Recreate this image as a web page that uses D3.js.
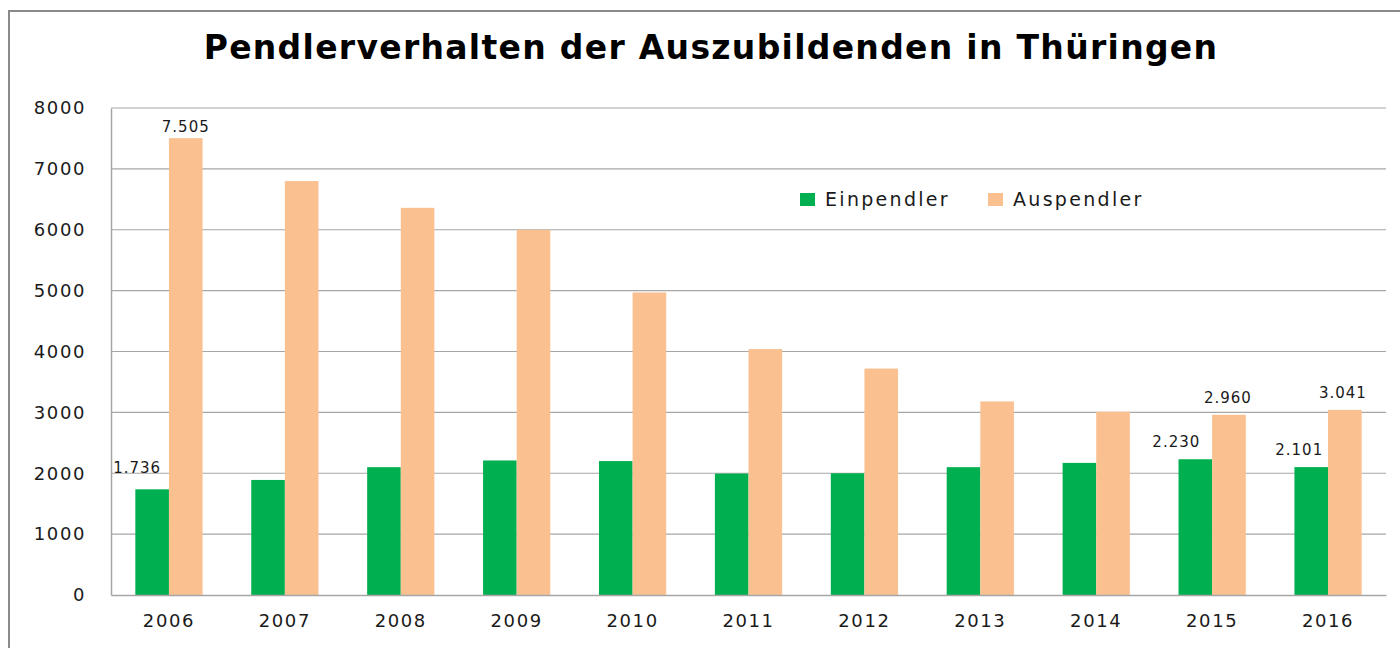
<!DOCTYPE html>
<meta charset="utf-8">
<script src="https://d3js.org/d3.v7.min.js"></script>
<style>
  body { margin: 0; background: #fff; }
  text { font-family: "DejaVu Sans", Verdana, sans-serif; fill: #1a1a1a; }
</style>
<div id="chart"></div>
<script>
    // data
    var years = ["2006","2007","2008","2009","2010","2011","2012","2013","2014","2015","2016"];
    var einpendler = [1736, 1890, 2100, 2210, 2200, 1995, 2000, 2100, 2170, 2230, 2101];
    var auspendler = [7505, 6800, 6360, 6000, 4970, 4040, 3720, 3180, 3010, 2960, 3041];
    var seriesNames = ["Einpendler", "Auspendler"];
    var yTicks = [0, 1000, 2000, 3000, 4000, 5000, 6000, 7000, 8000];
    // value labels that are shown in the chart
    var labelled = [
      {year: "2006", series: "Einpendler", text: "1.736"},
      {year: "2006", series: "Auspendler", text: "7.505"},
      {year: "2015", series: "Einpendler", text: "2.230"},
      {year: "2015", series: "Auspendler", text: "2.960"},
      {year: "2016", series: "Einpendler", text: "2.101"},
      {year: "2016", series: "Auspendler", text: "3.041"}
    ];

    var colors = {Einpendler: "#00b050", Auspendler: "#fac090"};

    var W = 1400, H = 648;
    var margin = {top: 108, right: 14, bottom: 53, left: 111},
        width = W - margin.left - margin.right,
        height = H - margin.top - margin.bottom;

    var root = d3.select("#chart").append("svg")
        .attr("width", W)
        .attr("height", H);

    // outer chart frame
    root.append("rect")
        .attr("x", 9).attr("y", 11)
        .attr("width", W + 20).attr("height", H + 20)
        .attr("fill", "none")
        .attr("stroke", "#8a8a8a")
        .attr("stroke-width", 2);

    root.append("text")
        .attr("x", 711).attr("y", 59)
        .attr("text-anchor", "middle")
        .style("font-size", "33px")
        .style("font-weight", "bold")
        .style("letter-spacing", "1.3px")
        .style("fill", "#000")
        .text("Pendlerverhalten der Auszubildenden in Thüringen");

    var svg = root.append("g")
        .attr("transform", "translate(" + margin.left + "," + margin.top + ")");

    var rows = years.map(function(y, i) {
      return {year: y, Einpendler: einpendler[i], Auspendler: auspendler[i]};
    });

    var x = d3.scaleBand()
        .domain(years)
        .range([0, width])
        .paddingInner(0.42)
        .paddingOuter(0.21);

    var x1 = d3.scaleBand()
        .domain(seriesNames)
        .range([0, x.bandwidth()]);

    var y = d3.scaleLinear()
        .domain([0, 8000])
        .range([height, 0]);

    // gridlines
    svg.append("g")
        .selectAll("line")
        .data(yTicks.filter(function(t) { return t > 0; }))
        .enter().append("line")
          .attr("x1", 0).attr("x2", width)
          .attr("y1", function(d) { return y(d); })
          .attr("y2", function(d) { return y(d); })
          .attr("stroke", "#a6a6a6")
          .attr("stroke-width", 1.2);

    // bars
    svg.append("g")
      .selectAll("g")
      .data(rows)
      .enter().append("g")
        .attr("transform", function(d) { return "translate(" + x(d.year) + ",0)"; })
      .selectAll("rect")
      .data(function(d) { return seriesNames.map(function(k) { return {key: k, value: d[k]}; }); })
      .enter().append("rect")
        .attr("x", function(d) { return x1(d.key); })
        .attr("y", function(d) { return y(d.value); })
        .attr("width", x1.bandwidth())
        .attr("height", function(d) { return height - y(d.value); })
        .attr("fill", function(d) { return colors[d.key]; });

    // axes
    var yAxis = svg.append("g")
        .call(d3.axisLeft(y).tickValues(yTicks).tickFormat(d3.format("d")).tickSize(0).tickPadding(25));
    yAxis.select(".domain").attr("stroke", "#a6a6a6").attr("stroke-width", 1.5);
    yAxis.selectAll("text")
        .style("font-size", "18px")
        .style("letter-spacing", "1.6px")
        .style("font-family", "'DejaVu Sans', Verdana, sans-serif")
        .attr("fill", "#1a1a1a");

    var xAxis = svg.append("g")
        .attr("transform", "translate(0," + height + ")")
        .call(d3.axisBottom(x).tickSize(0).tickPadding(19));
    xAxis.select(".domain").attr("stroke", "#a6a6a6").attr("stroke-width", 1.5);
    xAxis.selectAll("text")
        .style("font-size", "18px")
        .style("letter-spacing", "1.6px")
        .style("font-family", "'DejaVu Sans', Verdana, sans-serif")
        .attr("fill", "#1a1a1a");

    // value labels
    var labelShift = {
      "2006Einpendler": [-15, -16], "2006Auspendler": [0, -6],
      "2015Einpendler": [-19, -12], "2015Auspendler": [-1, -12],
      "2016Einpendler": [-12, -12], "2016Auspendler": [-2, -12]
    };
    var valueOf = function(d) {
      var i = years.indexOf(d.year);
      return d.series === "Einpendler" ? einpendler[i] : auspendler[i];
    };
    svg.append("g")
      .selectAll("text")
      .data(labelled)
      .enter().append("text")
        .attr("x", function(d) { return x(d.year) + x1(d.series) + x1.bandwidth() / 2 + labelShift[d.year + d.series][0]; })
        .attr("y", function(d) { return y(valueOf(d)) + labelShift[d.year + d.series][1]; })
        .attr("text-anchor", "middle")
        .style("font-size", "15px")
        .style("letter-spacing", "1px")
        .text(function(d) { return d.text; });

    // legend
    var legend = root.append("g").attr("transform", "translate(800,193)");
    var lx = [0, 188];
    seriesNames.forEach(function(k, i) {
      legend.append("rect")
          .attr("x", lx[i]).attr("y", 0)
          .attr("width", 15).attr("height", 13)
          .attr("fill", colors[k]);
      legend.append("text")
          .attr("x", lx[i] + 25).attr("y", 13)
          .style("font-size", "19px")
          .style("letter-spacing", "2.3px")
          .text(k);
    });
</script>
